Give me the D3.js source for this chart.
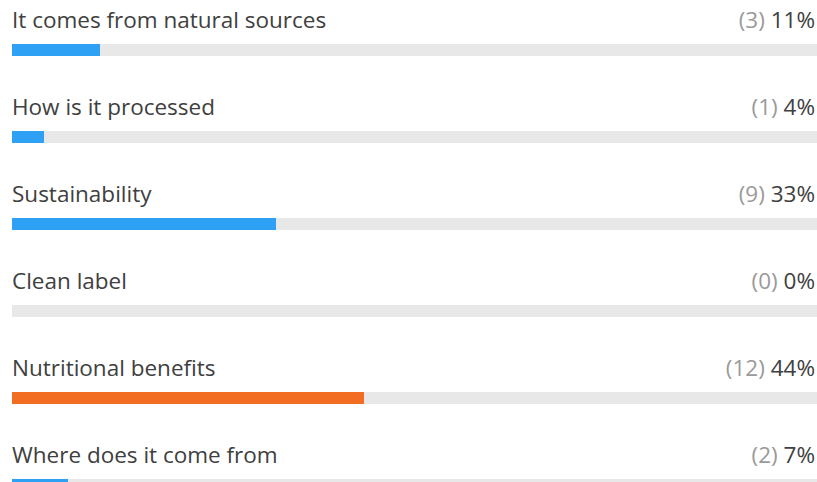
<!DOCTYPE html>
<html>
<head>
<meta charset="utf-8">
<script src="https://cdn.jsdelivr.net/npm/d3@7"></script>
<style>
  body { margin: 0; background: #fff; overflow: hidden; }
  text { font-family: "Open Sans", "Noto Sans", sans-serif; }
</style>
</head>
<body>
<div id="chart"></div>
<script>
    // Poll data
    labels = ["It comes from natural sources", "How is it processed", "Sustainability",
              "Clean label", "Nutritional benefits", "Where does it come from"]
    counts = [3, 1, 9, 0, 12, 2]
    percents = [11, 4, 33, 0, 44, 7]
    colors = ["#2ea1f5", "#2ea1f5", "#2ea1f5", "#2ea1f5", "#f26d22", "#2ea1f5"]

    canvas = ({width: 817, height: 482})
    rowStep = 87
    barH = 12

    rows = labels.map((d, i) => ({label: d, count: counts[i], pct: percents[i], color: colors[i]}))

    x = d3.scaleLinear()
        .domain([0, 100])
        .range([12, 812])

    y = d3.scaleBand()
        .domain(d3.range(rows.length))
        .range([0, rows.length * rowStep])

    var svg = d3.select("#chart").append("svg")
        .attr("width", canvas.width)
        .attr("height", canvas.height)

    var row = svg.selectAll("g.row")
        .data(rows)
        .join("g")
        .attr("class", "row")
        .attr("transform", (d, i) => `translate(0,${y(i)})`)

    // track
    row.append("rect")
        .attr("x", x(0))
        .attr("y", 44)
        .attr("width", canvas.width - x(0))
        .attr("height", barH)
        .attr("fill", "#e8e8e8")

    // value bar
    row.append("rect")
        .attr("x", x(0))
        .attr("y", 44)
        .attr("width", d => x(d.pct) - x(0))
        .attr("height", barH)
        .attr("fill", d => d.color)

    row.append("text")
        .attr("x", x(0))
        .attr("y", 28)
        .attr("fill", "#404040")
        .style("font-size", "22.5px")
        .text(d => d.label)

    var pctText = row.append("text")
        .attr("x", 815)
        .attr("y", 28)
        .attr("text-anchor", "end")
        .style("font-size", "22.5px")

    pctText.append("tspan")
        .attr("fill", "#9a9a9a")
        .text(d => `(${d.count}) `)

    pctText.append("tspan")
        .attr("fill", "#404040")
        .text(d => `${d.pct}%`)
</script>
</body>
</html>
